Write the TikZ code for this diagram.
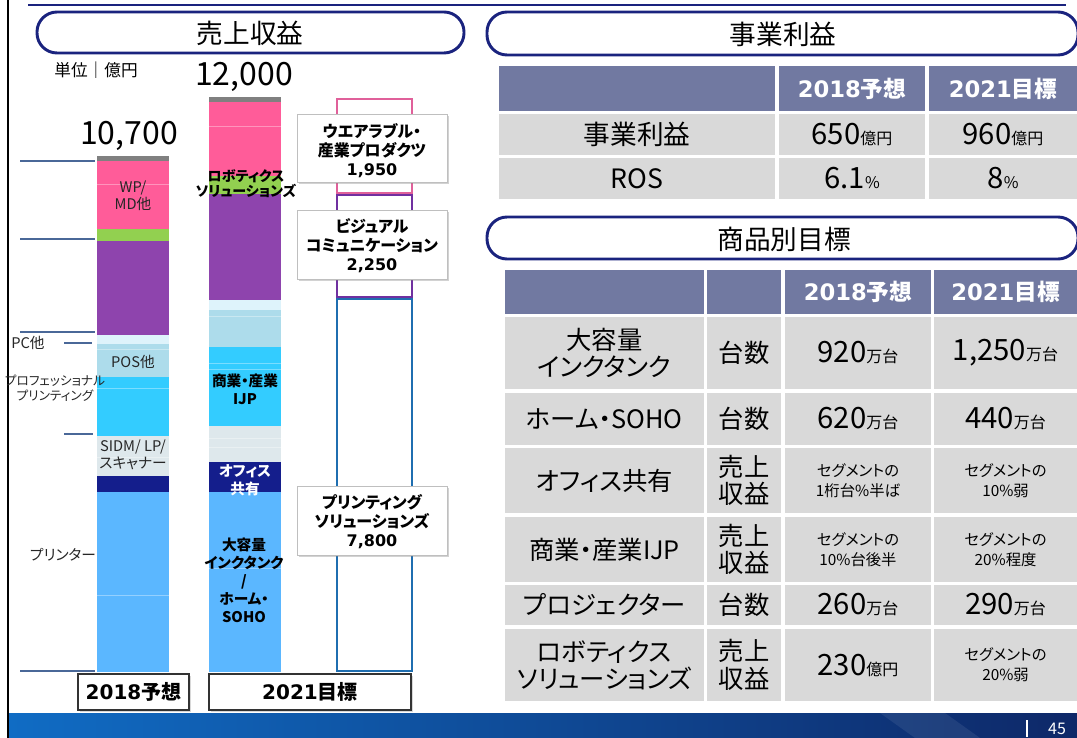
\documentclass[tikz,border=0pt]{standalone}
\usepackage{fontspec}
\setmainfont{Noto Sans CJK JP}[RawFeature={+palt}]
\newfontfamily\dvsans{DejaVu Sans}
\usepackage{tikz}
\usetikzlibrary{shadows}

\definecolor{navyline}{RGB}{26,35,126}
\definecolor{tickblue}{RGB}{74,104,152}
\definecolor{hdblue}{RGB}{113,121,161}
\definecolor{cellgray}{RGB}{217,217,217}
\definecolor{capgray}{RGB}{128,128,128}
\definecolor{wppink}{RGB}{255,92,153}
\definecolor{robogreen}{RGB}{146,208,80}
\definecolor{vispurple}{RGB}{142,68,173}
\definecolor{pcpale}{RGB}{222,243,251}
\definecolor{poslight}{RGB}{173,220,235}
\definecolor{procyan}{RGB}{51,204,255}
\definecolor{sidmpale}{RGB}{222,232,236}
\definecolor{officenavy}{RGB}{20,30,140}
\definecolor{printblue}{RGB}{91,183,255}
\definecolor{olpink}{RGB}{224,96,154}
\definecolor{olpurple}{RGB}{112,48,160}
\definecolor{olblue}{RGB}{31,110,176}
\definecolor{footL}{RGB}{16,108,196}
\definecolor{footM}{RGB}{12,66,140}
\definecolor{footR}{RGB}{14,40,104}

\tikzset{
  pill/.style={draw=navyline, line width=2.2pt, rounded corners=15pt},
  pilltext/.style={inner sep=0pt, font=\fontsize{20}{24}\selectfont},
  celltext/.style={align=center, inner sep=0pt, font=\fontsize{19}{20.5}\selectfont},
  smalltext/.style={align=center, inner sep=0pt, font=\fontsize{11.5}{15}\selectfont},
  tick/.style={draw=tickblue, line width=1.5pt},
  segtext/.style={align=center, inner sep=0pt, text=black!85, font=\fontsize{11}{13}\selectfont},
  bartext/.style={align=center, inner sep=0pt, font=\bfseries\fontsize{11}{13.5}\selectfont},
  callout/.style={draw=black!25, fill=white, line width=0.6pt, drop shadow={opacity=0.35, shadow xshift=1.2pt, shadow yshift=-1.2pt}},
  callouttext/.style={align=center, inner sep=0pt, font=\bfseries\fontsize{12}{14.25}\selectfont},
  yearbox/.style={draw=black!80, fill=white, line width=1pt, drop shadow={opacity=0.3, shadow xshift=1.2pt, shadow yshift=-1.2pt}},
  outline/.style={line width=2.2pt},
}

\newcommand{\tcell}[7][cellgray]{%
  \fill[#1] (#3,#4) rectangle (#5,#6);
  \node[celltext] (#2) at ({(#3+#5)/2},{(#4+#6)/2}) {#7};}
\newcommand{\scell}[6]{%
  \fill[cellgray] (#2,#3) rectangle (#4,#5);
  \node[smalltext] (#1) at ({(#2+#4)/2},{(#3+#5)/2}) {#6};}
\newcommand{\hdtxt}[2]{\textcolor{white}{\fontsize{17}{20}\selectfont{\dvsans\bfseries #1}\bfseries #2}}
\newcommand{\numunit}[2]{{\fontsize{22}{26}\selectfont #1}{\fontsize{12}{14}\selectfont #2}}
\newcommand{\yeartxt}[2]{\fontsize{15}{18}\selectfont\bfseries{\dvsans #1}#2}

\begin{document}
\begin{tikzpicture}[x=0.75pt,y=-0.75pt]
  \useasboundingbox (0,0) rectangle (1077,738);
  \fill[white] (0,0) rectangle (1077,738);

  \draw[navyline, line width=2pt] (28,5) -- (1066,5);
  \draw[black, line width=1.8pt] (8,0) -- (8,738);

  \draw[pill] (37,12) rectangle (464,53);
  \node[pilltext] (salesttl) at (250,33) {売上収益};
  \draw[pill] (487,12) rectangle (1078,55);
  \node[pilltext] (profttl) at (783,34) {事業利益};
  \draw[pill] (487,217) rectangle (1078,259);
  \node[pilltext] (prodttl) at (784,239) {商品別目標};

  \node (unit) at (96,70) {\fontsize{12.5}{14}\selectfont 単位｜億円};
  \node (tot18) at (129,136) {\fontsize{24}{28}\selectfont 10,700};
  \node (tot21) at (244,77) {\fontsize{24}{28}\selectfont 12,000};

  \foreach \ya/\yb/\col in {156/161/capgray, 161/229/wppink, 229/241/robogreen, 241/335/vispurple, 335/344/pcpale, 344/377/poslight, 377/436/procyan, 436/476/sidmpale, 476/492/officenavy, 492/672/printblue}
    \fill[\col] (97,\ya) rectangle (169,\yb);
  \foreach \ya/\yb/\col in {97/102/capgray, 102/176/wppink, 176/194/robogreen, 194/300/vispurple, 300/310/pcpale, 310/347/poslight, 347/426/procyan, 426/462/sidmpale, 462/492/officenavy, 492/672/printblue}
    \fill[\col] (209,\ya) rectangle (281,\yb);
  \foreach \yy in {184,349,388,457,595}
    \draw[white, opacity=0.35, line width=0.5pt] (97,\yy) -- (169,\yy);
  \foreach \yy in {126,316,363,369,438,447,568}
    \draw[white, opacity=0.35, line width=0.5pt] (209,\yy) -- (281,\yy);

  \draw[tick] (20,161) -- (95,161);
  \draw[tick] (20,239) -- (95,239);
  \draw[tick] (20,332) -- (95,332);
  \draw[tick] (64,343) -- (92,343);
  \draw[tick] (64,434) -- (93,434);
  \draw[tick] (20,671) -- (95,671);

  \node[segtext] (pclbl) at (28,343) {PC他};
  \node[segtext, font=\fontsize{9.5}{11.5}\selectfont] (prolbl) at (55,388) {プロフェッショナル\\プリンティング};
  \node[segtext] (prnlbl) at (63,555) {プリンター};
  \node[segtext] (wplbl) at (133,196) {WP/\\MD他};
  \node[segtext] (poslbl) at (133,362) {POS他};
  \node[segtext] (sidmlbl) at (133,455) {SIDM/ LP/\\スキャナー};

  \node[bartext, font=\bfseries\fontsize{10.5}{10}\selectfont] (robolbl) at (246,184) {ロボティクス\\ソリューションズ};
  \node[bartext] (ijplbl) at (245,389) {商業・産業\\IJP};
  \node[bartext, text=white] (offlbl) at (245,480) {オフィス\\共有};
  \node[bartext] (inklbl) at (244,580) {大容量\\インクタンク\\/\\ホーム・\\SOHO};

  \draw[outline, olblue] (337,299) rectangle (412,671);
  \draw[outline, olpurple] (337,195) rectangle (412,297);
  \draw[outline, olpink] (337,99) rectangle (412,193);

  \draw[callout] (297,114) rectangle (447,182);
  \node[callouttext] (wearlbl) at (372,151) {ウエアラブル・\\産業プロダクツ\\{\dvsans 1,950}};
  \draw[callout] (297,210) rectangle (447,279);
  \node[callouttext] (vislbl) at (372,246) {ビジュアル\\コミュニケーション\\{\dvsans 2,250}};
  \draw[callout] (297,486) rectangle (447,555);
  \node[callouttext] (prtlbl) at (372,522) {プリンティング\\ソリューションズ\\{\dvsans 7,800}};

  \draw[yearbox] (78,674) rectangle (189,710);
  \node (y18) at (133.5,692) {\yeartxt{2018}{予想}};
  \draw[yearbox] (209,674) rectangle (411,710);
  \node (y21) at (310,692) {\yeartxt{2021}{目標}};

  \tcell[hdblue]{t1h0}{499}{66}{775}{111}{}
  \tcell[hdblue]{t1h1}{779}{66}{925}{111}{\hdtxt{2018}{予想}}
  \tcell[hdblue]{t1h2}{929}{66}{1077}{111}{\hdtxt{2021}{目標}}
  \tcell{t1a}{499}{114}{775}{155}{\fontsize{20}{24}\selectfont 事業利益}
  \tcell{t1b}{779}{114}{925}{155}{\numunit{650}{億円}}
  \tcell{t1c}{929}{114}{1077}{155}{\numunit{960}{億円}}
  \tcell{t1d}{499}{158}{775}{199}{\fontsize{20}{24}\selectfont ROS}
  \tcell{t1e}{779}{158}{925}{199}{\numunit{6.1}{\%}}
  \tcell{t1f}{929}{158}{1077}{199}{\numunit{8}{\%}}

  \tcell[hdblue]{t2h0}{505}{270}{704}{314}{}
  \tcell[hdblue]{t2h1}{707}{270}{781}{314}{}
  \tcell[hdblue]{t2h2}{785}{270}{931}{314}{\hdtxt{2018}{予想}}
  \tcell[hdblue]{t2h3}{934}{270}{1077}{314}{\hdtxt{2021}{目標}}

  \tcell{inka}{505}{317}{704}{389}{大容量\\インクタンク}
  \tcell{inkb}{707}{317}{781}{389}{台数}
  \tcell{inkc}{785}{317}{931}{389}{\numunit{920}{万台}}
  \tcell{inkd}{934}{317}{1077}{389}{\numunit{1,250}{万台}}

  \tcell{homa}{505}{393}{704}{445}{ホーム・SOHO}
  \tcell{homb}{707}{393}{781}{445}{台数}
  \tcell{homc}{785}{393}{931}{445}{\numunit{620}{万台}}
  \tcell{homd}{934}{393}{1077}{445}{\numunit{440}{万台}}

  \tcell{offa}{505}{448}{704}{513}{オフィス共有}
  \tcell{offb}{707}{448}{781}{513}{売上\\収益}
  \scell{offc}{785}{448}{931}{513}{セグメントの\\1桁台\%半ば}
  \scell{offd}{934}{448}{1077}{513}{セグメントの\\10\%弱}

  \tcell{ijpa}{505}{517}{704}{582}{商業・産業IJP}
  \tcell{ijpb}{707}{517}{781}{582}{売上\\収益}
  \scell{ijpc}{785}{517}{931}{582}{セグメントの\\10\%台後半}
  \scell{ijpd}{934}{517}{1077}{582}{セグメントの\\20\%程度}

  \tcell{prja}{505}{585}{704}{625}{プロジェクター}
  \tcell{prjb}{707}{585}{781}{625}{台数}
  \tcell{prjc}{785}{585}{931}{625}{\numunit{260}{万台}}
  \tcell{prjd}{934}{585}{1077}{625}{\numunit{290}{万台}}

  \tcell{roba}{505}{629}{704}{701}{ロボティクス\\ソリューションズ}
  \tcell{robb}{707}{629}{781}{701}{売上\\収益}
  \tcell{robc}{785}{629}{931}{701}{\numunit{230}{億円}}
  \scell{robd}{934}{629}{1077}{701}{セグメントの\\20\%弱}

  \shade[left color=footL, middle color=footM, right color=footR] (9,713) rectangle (1077,738);
  \fill[white, opacity=0.08] (880,713) -- (945,713) -- (980,738) -- (915,738) -- cycle;
  \draw[white, line width=1pt] (1027,720) -- (1027,737);
  \node[text=white, font=\fontsize{12}{14}\selectfont] (pgno) at (1057,729) {45};
\end{tikzpicture}
\end{document}
